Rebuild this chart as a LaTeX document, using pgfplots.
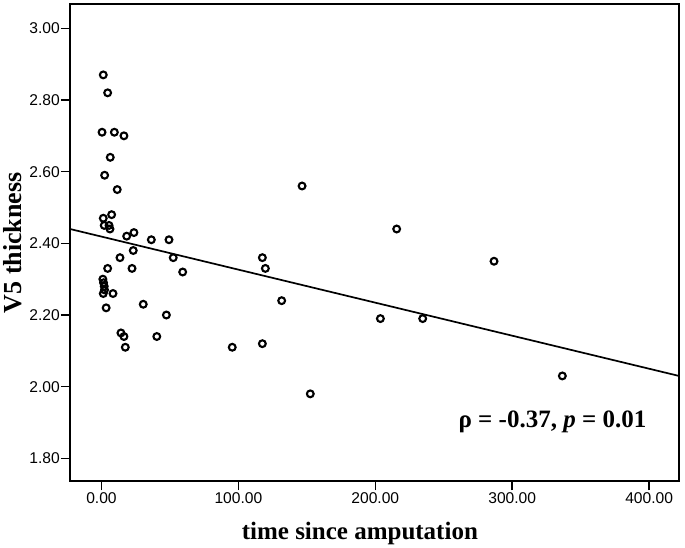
\documentclass[border=0pt]{standalone}
\usepackage{pgfplots}
\pgfplotsset{compat=1.18}
\usepackage{fontspec}
\setmainfont{Liberation Serif}
\newfontfamily\ticksans{Liberation Sans}
\begin{document}
\begin{tikzpicture}
\path[use as bounding box] (0,0) rectangle (685bp,548bp);
\begin{axis}[
  at={(70bp,66.7bp)}, anchor=south west,
  scale only axis, width=609bp, height=477bp,
  xmin=-23, xmax=421.8, ymin=1.736, ymax=3.067,
  xtick={0,100,200,300,400},
  ytick={1.8,2.0,2.2,2.4,2.6,2.8,3.0},
  tick pos=left, tick align=outside, major tick length=9bp,
  axis line style={line width=1.6bp},
  every tick/.style={line width=1.6bp, black},
  /pgf/number format/assume math mode=true,
  /pgf/number format/.cd, fixed, zerofill, precision=2, /pgfplots/.cd,
  ticklabel style={font=\fontsize{15.6bp}{18bp}\selectfont\ticksans},
  yticklabel style={inner sep=1bp},
  xticklabel style={inner sep=2bp},
  xlabel={time since amputation},
  xlabel style={at={(axis description cs:0.476,-0.123)}, anchor=base, font=\fontsize{25bp}{30bp}\selectfont\bfseries},
  ylabel={V5 thickness},
  ylabel style={at={(axis description cs:-0.0936,0.5)}, anchor=center, rotate=0, font=\fontsize{26bp}{30bp}\selectfont\bfseries},
  clip=true,
]
\addplot[black, line width=1.7bp] coordinates {(-23,2.440) (421.8,2.030)};
\addplot[only marks, black, line width=2.1bp, mark=o, mark size=3.4bp] coordinates {
(1.3,2.87) (4.5,2.82) (0.4,2.71) (9.4,2.71) (16.4,2.70) (6.4,2.64) (2.3,2.59) (11.5,2.55)
(1.3,2.47) (7.4,2.48) (2.0,2.45) (5.5,2.45) (6.2,2.44) (18.4,2.42) (23.7,2.43) (36.4,2.41)
(49.3,2.41) (23.2,2.38) (13.5,2.36) (52.4,2.36) (59.3,2.32) (4.5,2.33) (22.3,2.33)
(1.0,2.30) (1.5,2.29) (2.0,2.28) (2.2,2.27) (1.3,2.26) (8.4,2.26) (3.4,2.22) (30.5,2.23)
(47.4,2.20) (14.2,2.15) (16.4,2.14) (17.4,2.11) (40.4,2.14)
(146.5,2.56) (117.5,2.36) (119.7,2.33) (131.6,2.24) (95.5,2.11) (117.5,2.12) (152.5,1.98)
(215.6,2.44) (286.7,2.35) (203.7,2.19) (234.6,2.19) (336.6,2.03)
};
\node[anchor=base, font=\fontsize{25bp}{28bp}\selectfont\bfseries] at (axis cs:329.4,1.886) {ρ = -0.37, \textit{p} = 0.01};
\end{axis}
\end{tikzpicture}
\end{document}
